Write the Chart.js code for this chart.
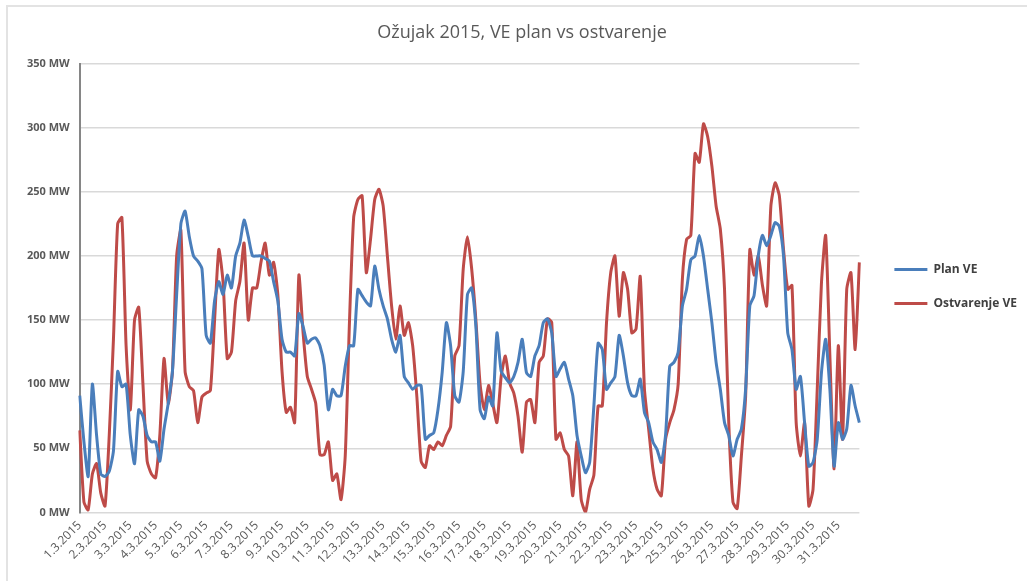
<!DOCTYPE html>
<html>
<head>
<meta charset="utf-8">
<script src="https://cdn.jsdelivr.net/npm/chart.js@4"></script>
<style>
  html, body { margin: 0; padding: 0; background: #fff; }
  #wrap { position: relative; width: 1027px; height: 581px; }
  #frame { position: absolute; left: 6px; top: 5px; right: 0; bottom: 0; border-top: 2px solid #e3e3e3; border-left: 2px solid #e3e3e3; pointer-events: none; }
</style>
</head>
<body>
<div id="wrap">
  <canvas id="chart"></canvas>
  <div id="frame"></div>
</div>
<script>
// one label per day, six readings per day (every 4 h)
const days = [
  "1.3.2015", "2.3.2015", "3.3.2015", "4.3.2015", "5.3.2015", "6.3.2015", "7.3.2015", "8.3.2015",
  "9.3.2015", "10.3.2015", "11.3.2015", "12.3.2015", "13.3.2015", "14.3.2015", "15.3.2015", "16.3.2015",
  "17.3.2015", "18.3.2015", "19.3.2015", "20.3.2015", "21.3.2015", "22.3.2015", "23.3.2015", "24.3.2015",
  "25.3.2015", "26.3.2015", "27.3.2015", "28.3.2015", "29.3.2015", "30.3.2015", "31.3.2015"
];
const perDay = 6;

const planVE = [
  91, 55, 28, 100, 60, 30,
  28, 32, 48, 110, 98, 100,
  60, 38, 80, 75, 60, 55,
  55, 40, 65, 85, 110, 170,
  225, 235, 215, 200, 196, 190,
  138, 132, 165, 180, 170, 185,
  175, 200, 210, 228, 215, 200,
  200, 200, 198, 196, 180, 165,
  135, 125, 125, 122, 155, 145,
  132, 135, 136, 130, 115, 80,
  96, 91, 91, 114, 130, 130,
  174, 169, 164, 161, 192, 174,
  161, 151, 135, 125, 138, 106,
  101, 96, 99, 99, 57, 60,
  62, 80, 109, 148, 130, 91,
  86, 110, 170, 175, 145, 80,
  73, 90, 83, 140, 110, 105,
  101, 106, 117, 135, 109, 106,
  122, 130, 148, 151, 140, 106,
  112, 117, 104, 91, 60, 44,
  31, 39, 83, 132, 127, 96,
  101, 106, 138, 122, 101, 91,
  91, 104, 78, 70, 55, 49,
  39, 60, 114, 117, 125, 161,
  174, 197, 200, 216, 200, 174,
  148, 117, 96, 70, 60, 44,
  57, 65, 96, 161, 169, 200,
  216, 208, 216, 226, 223, 200,
  140, 127, 96, 106, 70, 36,
  39, 57, 109, 135, 96, 36,
  70, 57, 65, 99, 83, 70
];

const ostvarenjeVE = [
  64, 8, 2, 30, 38, 15,
  5, 60, 135, 225, 230, 130,
  80, 150, 160, 100, 40, 30,
  27, 60, 120, 85, 110, 200,
  220, 110, 98, 95, 70, 90,
  93, 95, 150, 205, 180, 120,
  125, 165, 180, 210, 150, 175,
  175, 195, 210, 185, 195, 170,
  110, 78, 82, 70, 185, 140,
  106, 96, 85, 45, 45, 55,
  25, 30, 10, 44, 148, 230,
  244, 247, 187, 213, 244, 252,
  239, 200, 161, 135, 161, 138,
  148, 130, 90, 40, 35, 52,
  49, 55, 52, 60, 67, 122,
  130, 190, 215, 190, 150, 100,
  80, 99, 85, 70, 106, 122,
  101, 93, 75, 47, 86, 88,
  70, 117, 122, 151, 148, 57,
  62, 49, 44, 13, 55, 10,
  0, 18, 29, 83, 83, 148,
  187, 200, 153, 187, 174, 140,
  143, 184, 96, 65, 34, 18,
  13, 57, 70, 80, 100, 182,
  213, 216, 280, 273, 303, 293,
  270, 239, 221, 174, 70, 8,
  3, 44, 90, 205, 185, 200,
  177, 161, 239, 257, 247, 205,
  174, 177, 70, 44, 70, 5,
  18, 96, 179, 216, 122, 34,
  130, 57, 174, 187, 127, 195
];

const yTicks = [0, 50, 100, 150, 200, 250, 300, 350];

const labels = planVE.map((_, i) => (i % perDay === 0 ? days[i / perDay] : ""));

const textColor = "#595959";

new Chart(document.getElementById("chart"), {
  type: "line",
  data: {
    labels,
    datasets: [
      {
        label: "Plan VE",
        data: planVE,
        borderColor: "#4a7ebb",
        backgroundColor: "#4a7ebb",
        borderWidth: 3,
        pointRadius: 0,
        tension: 0.2,
      },
      {
        label: "Ostvarenje VE",
        data: ostvarenjeVE,
        borderColor: "#be4b48",
        backgroundColor: "#be4b48",
        borderWidth: 3,
        pointRadius: 0,
        tension: 0.2,
      },
    ],
  },
  options: {
    responsive: true,
    maintainAspectRatio: false,
    animation: false,
    layout: { padding: { left: 17, right: 0, top: 0, bottom: 8 } },
    scales: {
      x: {
        grid: { display: false, drawTicks: false },
        border: { display: false },
        ticks: {
          autoSkip: false,
          maxRotation: 45,
          minRotation: 45,
          padding: 6,
          color: textColor,
          font: { family: "Open Sans", size: 12 },
        },
      },
      y: {
        min: 0,
        max: 350,
        afterBuildTicks: scale => { scale.ticks = yTicks.map(v => ({ value: v })); },
        grid: { color: "#d9d9d9", lineWidth: 1.5, drawTicks: false },
        border: { display: true, color: "#868686", width: 2 },
        ticks: {
          padding: 10,
          color: textColor,
          font: { family: "Open Sans", size: 11, weight: "bold" },
          callback: v => v + " MW",
        },
      },
      // empty spacer between plot and legend
      gap: {
        position: "right",
        grid: { display: false, drawTicks: false },
        border: { display: false },
        ticks: { display: false },
        afterFit: scale => { scale.width = 13; },
      },
    },
    plugins: {
      title: {
        display: true,
        text: "Ožujak 2015, VE plan vs ostvarenje",
        color: textColor,
        font: { family: "Open Sans", size: 18, weight: "normal" },
        padding: { top: 22, bottom: 20 },
      },
      legend: {
        position: "right",
        labels: {
          boxWidth: 33,
          boxHeight: 3,
          padding: 22,
          color: "#404040",
          font: { family: "Open Sans", size: 12, weight: "bold" },
          generateLabels: chart =>
            Chart.defaults.plugins.legend.labels.generateLabels(chart).map(l => ({ ...l, lineWidth: 0 })),
        },
      },
      tooltip: { enabled: false },
    },
  },
});
</script>
</body>
</html>
